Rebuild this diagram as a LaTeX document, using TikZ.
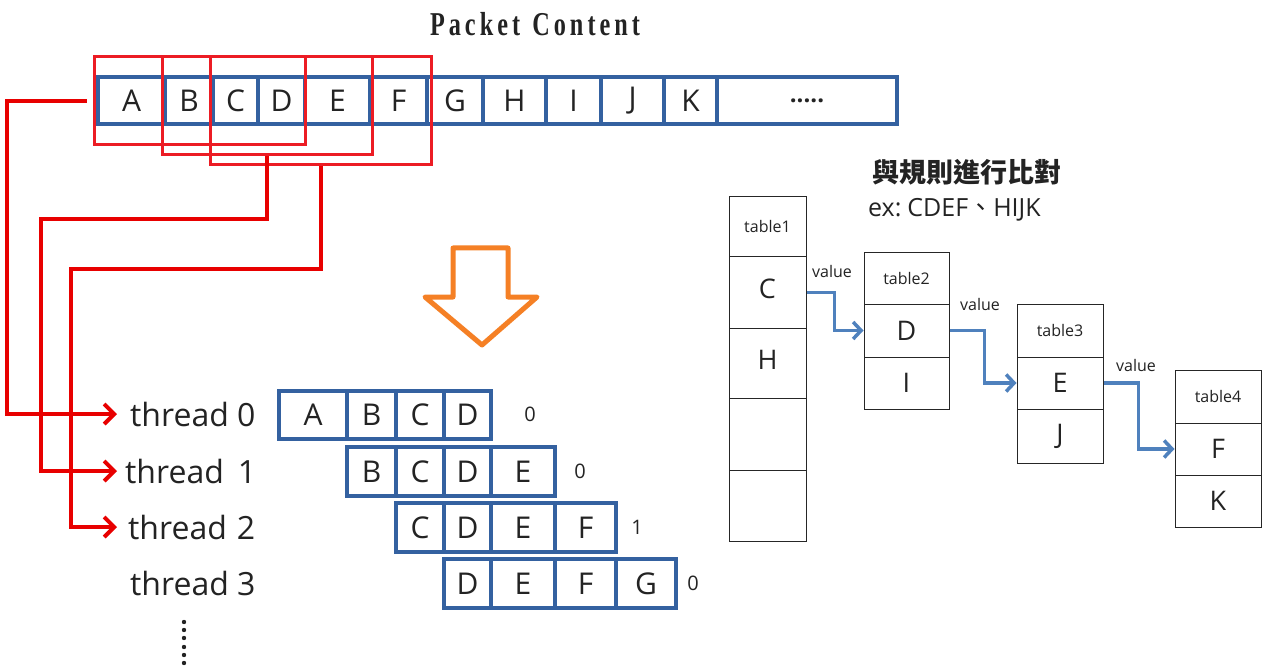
\documentclass[tikz,border=0pt]{standalone}
\usepackage{fontspec}
\setmainfont{Open Sans}
\newfontfamily\cjk{Noto Sans CJK TC}
\newfontfamily\headfont{Liberation Serif}
\usetikzlibrary{arrows.meta}

\definecolor{cellblue}{RGB}{52,97,160}
\definecolor{linkblue}{RGB}{79,129,189}
\definecolor{winred}{RGB}{236,28,36}
\definecolor{pathred}{RGB}{232,0,0}
\definecolor{arroworange}{RGB}{245,128,37}
\definecolor{ink}{RGB}{35,35,35}

\newcommand\fs[1]{\fontsize{#1}{#1}\selectfont}
% box node: style, name, left, right, top, bottom, text
\newcommand\boxat[7]{%
  \node[#1, minimum width={(#4)-(#3)}, minimum height={(#6)-(#5)}]
    (#2) at ({((#3)+(#4))/2},{((#5)+(#6))/2}) {#7};}

\tikzset{
  cell/.style={draw=cellblue, line width=3.5pt, inner sep=0pt, font=\fs{30}, text=ink},
  slot/.style={draw=black!85, line width=1pt, inner sep=0pt, font=\fs{27}, text=ink},
  hdr/.style={slot, font=\fs{16}},
  window/.style={draw=winred, line width=3pt, inner sep=0pt},
  feed/.style={draw=pathred, line width=4pt, -{Straight Barb[length=10pt,width=20pt]}},
  link/.style={draw=linkblue, line width=3.5pt, -{Straight Barb[length=8pt,width=17pt]}},
  tlabel/.style={anchor=west, inner sep=0pt, font=\fs{32}, text=ink},
  score/.style={inner sep=0pt, font=\fs{20}, text=ink},
}

\begin{document}
\begin{tikzpicture}[x=1pt, y=-1pt]
\fill[white] (0,0) rectangle (1263,668);
\useasboundingbox (0,0) rectangle (1263,668);

% heading
\node[font=\headfont\bfseries, text=ink, inner sep=0pt] (title) at (535,24)
  {\resizebox{210pt}{!}{\scalebox{0.8}[1.1]{\fs{26}P\,a\,c\,k\,e\,t\ \ C\,o\,n\,t\,e\,n\,t}}};

% packet bytes
\boxat{cell}{p1}{98}{165}{77}{124}{A}
\boxat{cell}{p2}{165}{213}{77}{124}{B}
\boxat{cell}{p3}{213}{258}{77}{124}{C}
\boxat{cell}{p4}{258}{305}{77}{124}{D}
\boxat{cell}{p5}{305}{370}{77}{124}{E}
\boxat{cell}{p6}{370}{427}{77}{124}{F}
\boxat{cell}{p7}{427}{483}{77}{124}{G}
\boxat{cell}{p8}{483}{546}{77}{124}{H}
\boxat{cell}{p9}{546}{601}{77}{124}{I}
\boxat{cell}{p10}{601}{664}{77}{124}{J}
\boxat{cell}{p11}{664}{717}{77}{124}{K}
\boxat{cell, font=\fs{24}\bfseries}{p12}{717}{897}{77}{124}{.....}

% sliding windows
\boxat{window}{w0}{94}{305}{57}{145}{}
\boxat{window}{w1}{162}{372}{57}{155}{}
\boxat{window}{w2}{210}{431}{57}{165}{}

% thread labels
\node[tlabel] (t0) at (130,414) {thread 0};
\node[tlabel] (t1) at (125,471) {thread\hspace{14pt}1};
\node[tlabel] (t2) at (128,527) {thread\hspace{10pt}2};
\node[tlabel] (t3) at (130,583) {thread 3};
\foreach \yy in {622,630,638,647,655,663}
  \fill[ink] (184,\yy) circle (2.2pt);

% windows handed to threads
\draw[feed, shorten <=6pt, shorten >=13pt] (w0.west) -- ++(-86,0) |- (t0.west);
\draw[feed, shorten >=8pt] (w1.south) |- ++(-226,63) |- (t1.west);
\draw[feed, shorten >=11pt] (w2.south) |- ++(-250,103) |- (t2.west);

% down arrow
\draw[arroworange, line width=5pt, line join=round]
  (453,248) -- (508,248) -- (508,297) -- (537,297) -- (482,345)
  -- (425,297) -- (453,297) -- cycle;

% per-thread windows
\boxat{cell}{a0}{279}{347}{391}{439}{A}
\boxat{cell}{a1}{347}{396}{391}{439}{B}
\boxat{cell}{a2}{396}{444}{391}{439}{C}
\boxat{cell}{a3}{444}{491}{391}{439}{D}
\node[score] (s0) at (530,414) {0};

\boxat{cell}{b0}{347}{396}{447}{496}{B}
\boxat{cell}{b1}{396}{444}{447}{496}{C}
\boxat{cell}{b2}{444}{491}{447}{496}{D}
\boxat{cell}{b3}{491}{555}{447}{496}{E}
\node[score] (s1) at (580,471) {0};

\boxat{cell}{c0}{396}{444}{503}{552}{C}
\boxat{cell}{c1}{444}{491}{503}{552}{D}
\boxat{cell}{c2}{491}{555}{503}{552}{E}
\boxat{cell}{c3}{555}{616}{503}{552}{F}
\node[score] (s2) at (637,527) {1};

\boxat{cell}{d0}{444}{491}{559}{608}{D}
\boxat{cell}{d1}{491}{555}{559}{608}{E}
\boxat{cell}{d2}{555}{616}{559}{608}{F}
\boxat{cell}{d3}{616}{676}{559}{608}{G}
\node[score] (s3) at (693,583) {0};

% rule matching
\node[font=\cjk\bfseries\fs{27}, text=ink] (rule) at (967,172) {與規則進行比對};
\node[anchor=west, inner sep=0pt, font=\fs{25}, text=ink] (ex) at (868,210)
  {ex:\hspace{6pt}CDEF{\cjk 、}HIJK};

% table 1
\boxat{hdr}{h1}{729}{806}{197}{257}{table1}
\boxat{slot}{k1a}{729}{806}{257}{328}{\raisebox{7pt}{C}}
\boxat{slot}{k1b}{729}{806}{328}{398}{\raisebox{7pt}{H}}
\boxat{slot}{k1c}{729}{806}{398}{470}{}
\boxat{slot}{k1d}{729}{806}{470}{541}{}
% table 2
\boxat{hdr}{h2}{864}{949}{253}{304}{table2}
\boxat{slot}{k2a}{864}{949}{304}{357}{D}
\boxat{slot}{k2b}{864}{949}{357}{409}{I}
% table 3
\boxat{hdr}{h3}{1017}{1103}{304}{357}{table3}
\boxat{slot}{k3a}{1017}{1103}{357}{409}{E}
\boxat{slot}{k3b}{1017}{1103}{409}{463}{J}
% table 4
\boxat{hdr}{h4}{1175}{1261}{370}{423}{table4}
\boxat{slot}{k4a}{1175}{1261}{423}{475}{F}
\boxat{slot}{k4b}{1175}{1261}{475}{527}{K}

% value links
\draw[link] (k1a.east) -- ++(28,0) |- (k2a.west);
\draw[link] (k2a.east) -- ++(35,0) |- (k3a.west);
\draw[link] (k3a.east) -- ++(35,0) |- (k4a.west);
\node[score, font=\fs{16}] (v1) at (832,271) {value};
\node[score, font=\fs{16}] (v2) at (980,304) {value};
\node[score, font=\fs{16}] (v3) at (1136,365) {value};
\end{tikzpicture}
\end{document}
